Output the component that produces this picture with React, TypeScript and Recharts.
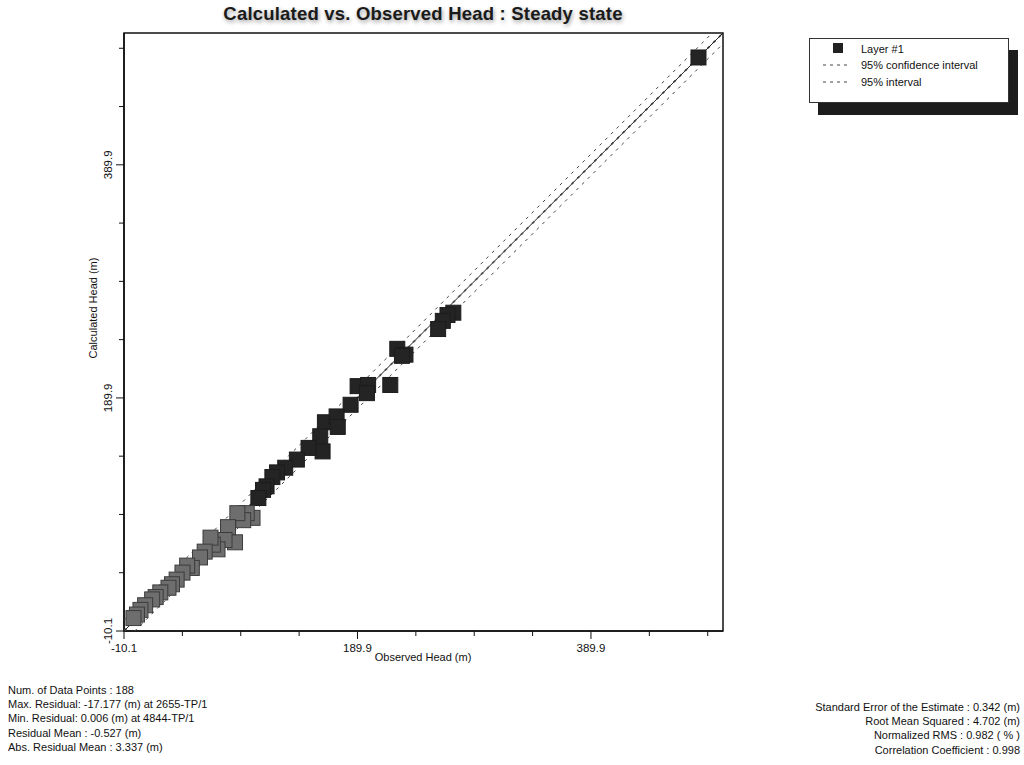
import { ScatterChart, Scatter, XAxis, YAxis, Cell, ReferenceArea } from "recharts";

const observed = [
  482, 272, 267, 263, 259, 224, 231, 228, 218, 190, 199, 198, 184, 162, 172, 173,
  158, 160, 148, 138, 128, 121, 117, 112, 109, 105, 100, 95, 92, 87, 85, 79, 76,
  70, 66, 64, 59, 55, 48, 44, 40, 35, 31, 28, 21, 17, 14, 8, 4, 1, -2,
];
const calculated = [
  482, 263, 261, 256, 249, 232, 227, 226, 201, 200, 201, 194, 184, 169, 174, 165,
  157, 144, 147, 137, 130, 126, 122, 114, 111, 104, 87, 91, 85, 91, 66, 79, 68,
  60, 64, 70, 58, 53, 44, 46, 40, 34, 30, 27, 23, 19, 17, 12, 8, 4, 1,
];

const axisMin = -10.1;
const axisMax = 503;
const axisTicks = [-10.1, 39.9, 89.9, 139.9, 189.9, 239.9, 289.9, 339.9, 389.9, 439.9, 489.9];
const majorTicks = [-10.1, 189.9, 389.9];
const interval95 = 9.2;
const confidence95 = 0.67;

const statsLeft = [
  "Num. of Data Points : 188",
  "Max. Residual: -17.177 (m) at 2655-TP/1",
  "Min. Residual: 0.006 (m) at 4844-TP/1",
  "Residual Mean : -0.527 (m)",
  "Abs. Residual Mean : 3.337 (m)",
];
const statsRight = [
  "Standard Error of the Estimate : 0.342 (m)",
  "Root Mean Squared : 4.702 (m)",
  "Normalized RMS : 0.982 ( % )",
  "Correlation Coefficient : 0.998",
];

const font = "'Liberation Sans', Arial, sans-serif";

const points = observed.map((x, i) => ({ x, y: calculated[i] }));

const offsetLine = (d: number) =>
  d >= 0
    ? [{ x: axisMin, y: axisMin + d }, { x: axisMax - d, y: axisMax }]
    : [{ x: axisMin - d, y: axisMin }, { x: axisMax, y: axisMax + d }];

const isMajor = (v: number) => majorTicks.some((m) => Math.abs(m - v) < 0.01);

const XTick = (props: any) => {
  const { x, y, payload } = props;
  const major = isMajor(payload.value);
  return (
    <g>
      <line x1={x} x2={x} y1={y} y2={y + (major ? 8 : 5)} stroke="#111" strokeWidth={1} />
      {major && (
        <text x={x} y={y + 21} textAnchor="middle" fontSize={11.5} fill="#111" fontFamily={font}>
          {payload.value.toFixed(1)}
        </text>
      )}
    </g>
  );
};

const YTick = (props: any) => {
  const { x, y, payload } = props;
  const major = isMajor(payload.value);
  return (
    <g>
      <line x1={x} x2={x - (major ? 8 : 5)} y1={y} y2={y} stroke="#111" strokeWidth={1} />
      {major && (
        <text
          x={x - 16}
          y={y}
          dy={4}
          textAnchor="middle"
          fontSize={11.5}
          fill="#111"
          fontFamily={font}
          transform={`rotate(-90, ${x - 16}, ${y})`}
        >
          {payload.value.toFixed(1)}
        </text>
      )}
    </g>
  );
};

const Square = (props: any) => {
  const { cx, cy, fill, stroke } = props;
  return <rect x={cx - 7.5} y={cy - 7.5} width={15} height={15} fill={fill} stroke={stroke} strokeWidth={1} />;
};

const NoShape = () => null;

export default function App() {
  return (
    <div style={{ position: "absolute", left: 0, top: 0, width: 1024, height: 765, background: "#fff", fontFamily: font }}>
      <div
        style={{
          position: "absolute",
          left: 0,
          width: 846,
          top: 3,
          textAlign: "center",
          fontSize: 18.5,
          letterSpacing: 0.2,
          fontWeight: "bold",
          color: "#1a1a1a",
          textShadow: "1px 2px 4px rgba(0,0,0,0.4)",
        }}
      >
        Calculated vs. Observed Head : Steady state
      </div>

      <ScatterChart width={1024} height={765} margin={{ top: 33, right: 301, bottom: 104, left: 84 }}>
        <XAxis
          type="number"
          dataKey="x"
          domain={[axisMin, axisMax]}
          ticks={axisTicks}
          interval={0}
          height={30}
          tickSize={0}
          tickMargin={0}
          tickLine={false}
          axisLine={{ stroke: "#111", strokeWidth: 1.5 }}
          tick={<XTick />}
          allowDataOverflow
        />
        <YAxis
          type="number"
          dataKey="y"
          domain={[axisMin, axisMax]}
          ticks={axisTicks}
          interval={0}
          width={40}
          tickSize={0}
          tickMargin={0}
          tickLine={false}
          axisLine={{ stroke: "#111", strokeWidth: 1.5 }}
          tick={<YTick />}
          allowDataOverflow
        />
        <ReferenceArea
          x1={axisMin}
          x2={axisMax}
          y1={axisMin}
          y2={axisMax}
          fill="none"
          fillOpacity={0}
          stroke="#111"
          strokeWidth={1.5}
        />
        <Scatter
          data={offsetLine(interval95)}
          line={{ stroke: "#444", strokeWidth: 1, strokeDasharray: "3 5" }}
          shape={<NoShape />}
          isAnimationActive={false}
        />
        <Scatter
          data={offsetLine(-interval95)}
          line={{ stroke: "#444", strokeWidth: 1, strokeDasharray: "3 5" }}
          shape={<NoShape />}
          isAnimationActive={false}
        />
        <Scatter
          data={offsetLine(confidence95)}
          line={{ stroke: "#555", strokeWidth: 1, strokeDasharray: "3 5" }}
          shape={<NoShape />}
          isAnimationActive={false}
        />
        <Scatter
          data={offsetLine(-confidence95)}
          line={{ stroke: "#555", strokeWidth: 1, strokeDasharray: "3 5" }}
          shape={<NoShape />}
          isAnimationActive={false}
        />
        <Scatter
          data={offsetLine(0)}
          line={{ stroke: "#222", strokeWidth: 1 }}
          shape={<NoShape />}
          isAnimationActive={false}
        />
        <Scatter data={points} shape={<Square />} isAnimationActive={false}>
          {points.map((p, i) => (
            <Cell
              key={i}
              fill={p.y < 95 ? "#6e6e6e" : "#242424"}
              stroke={p.y < 95 ? "#3c3c3c" : "#1c1c1c"}
            />
          ))}
        </Scatter>
      </ScatterChart>

      <div style={{ position: "absolute", left: 0, width: 846, top: 651, textAlign: "center", fontSize: 11, color: "#111" }}>
        Observed Head (m)
      </div>
      <div
        style={{
          position: "absolute",
          left: 93,
          top: 308,
          fontSize: 11,
          color: "#111",
          whiteSpace: "nowrap",
          transform: "translate(-50%, -50%) rotate(-90deg)",
        }}
      >
        Calculated Head (m)
      </div>

      <div
        style={{
          position: "absolute",
          left: 809,
          top: 38,
          width: 198,
          height: 63,
          border: "1px solid #333",
          background: "#fff",
          boxShadow: "9px 12px 0 #1c1c1c",
          fontSize: 11,
          color: "#111",
        }}
      >
        <svg width={198} height={63} style={{ position: "absolute", left: 0, top: 0 }}>
          <rect x={23} y={4} width={10} height={10} fill="#222" />
          <line x1={13} x2={40} y1={26} y2={26} stroke="#444" strokeDasharray="3 4" />
          <line x1={13} x2={40} y1={43} y2={43} stroke="#444" strokeDasharray="3 4" />
          <text x={51} y={14} fontSize={11} fontFamily={font} fill="#111">Layer #1</text>
          <text x={51} y={30} fontSize={11} fontFamily={font} fill="#111">95% confidence interval</text>
          <text x={51} y={47} fontSize={11} fontFamily={font} fill="#111">95% interval</text>
        </svg>
      </div>

      <div style={{ position: "absolute", left: 8, top: 683, fontSize: 11, lineHeight: "14.2px", color: "#111" }}>
        {statsLeft.map((s) => (
          <div key={s}>{s}</div>
        ))}
      </div>
      <div
        style={{
          position: "absolute",
          right: 4,
          top: 700,
          fontSize: 11,
          lineHeight: "14.2px",
          color: "#111",
          textAlign: "right",
        }}
      >
        {statsRight.map((s) => (
          <div key={s}>{s}</div>
        ))}
      </div>
    </div>
  );
}
